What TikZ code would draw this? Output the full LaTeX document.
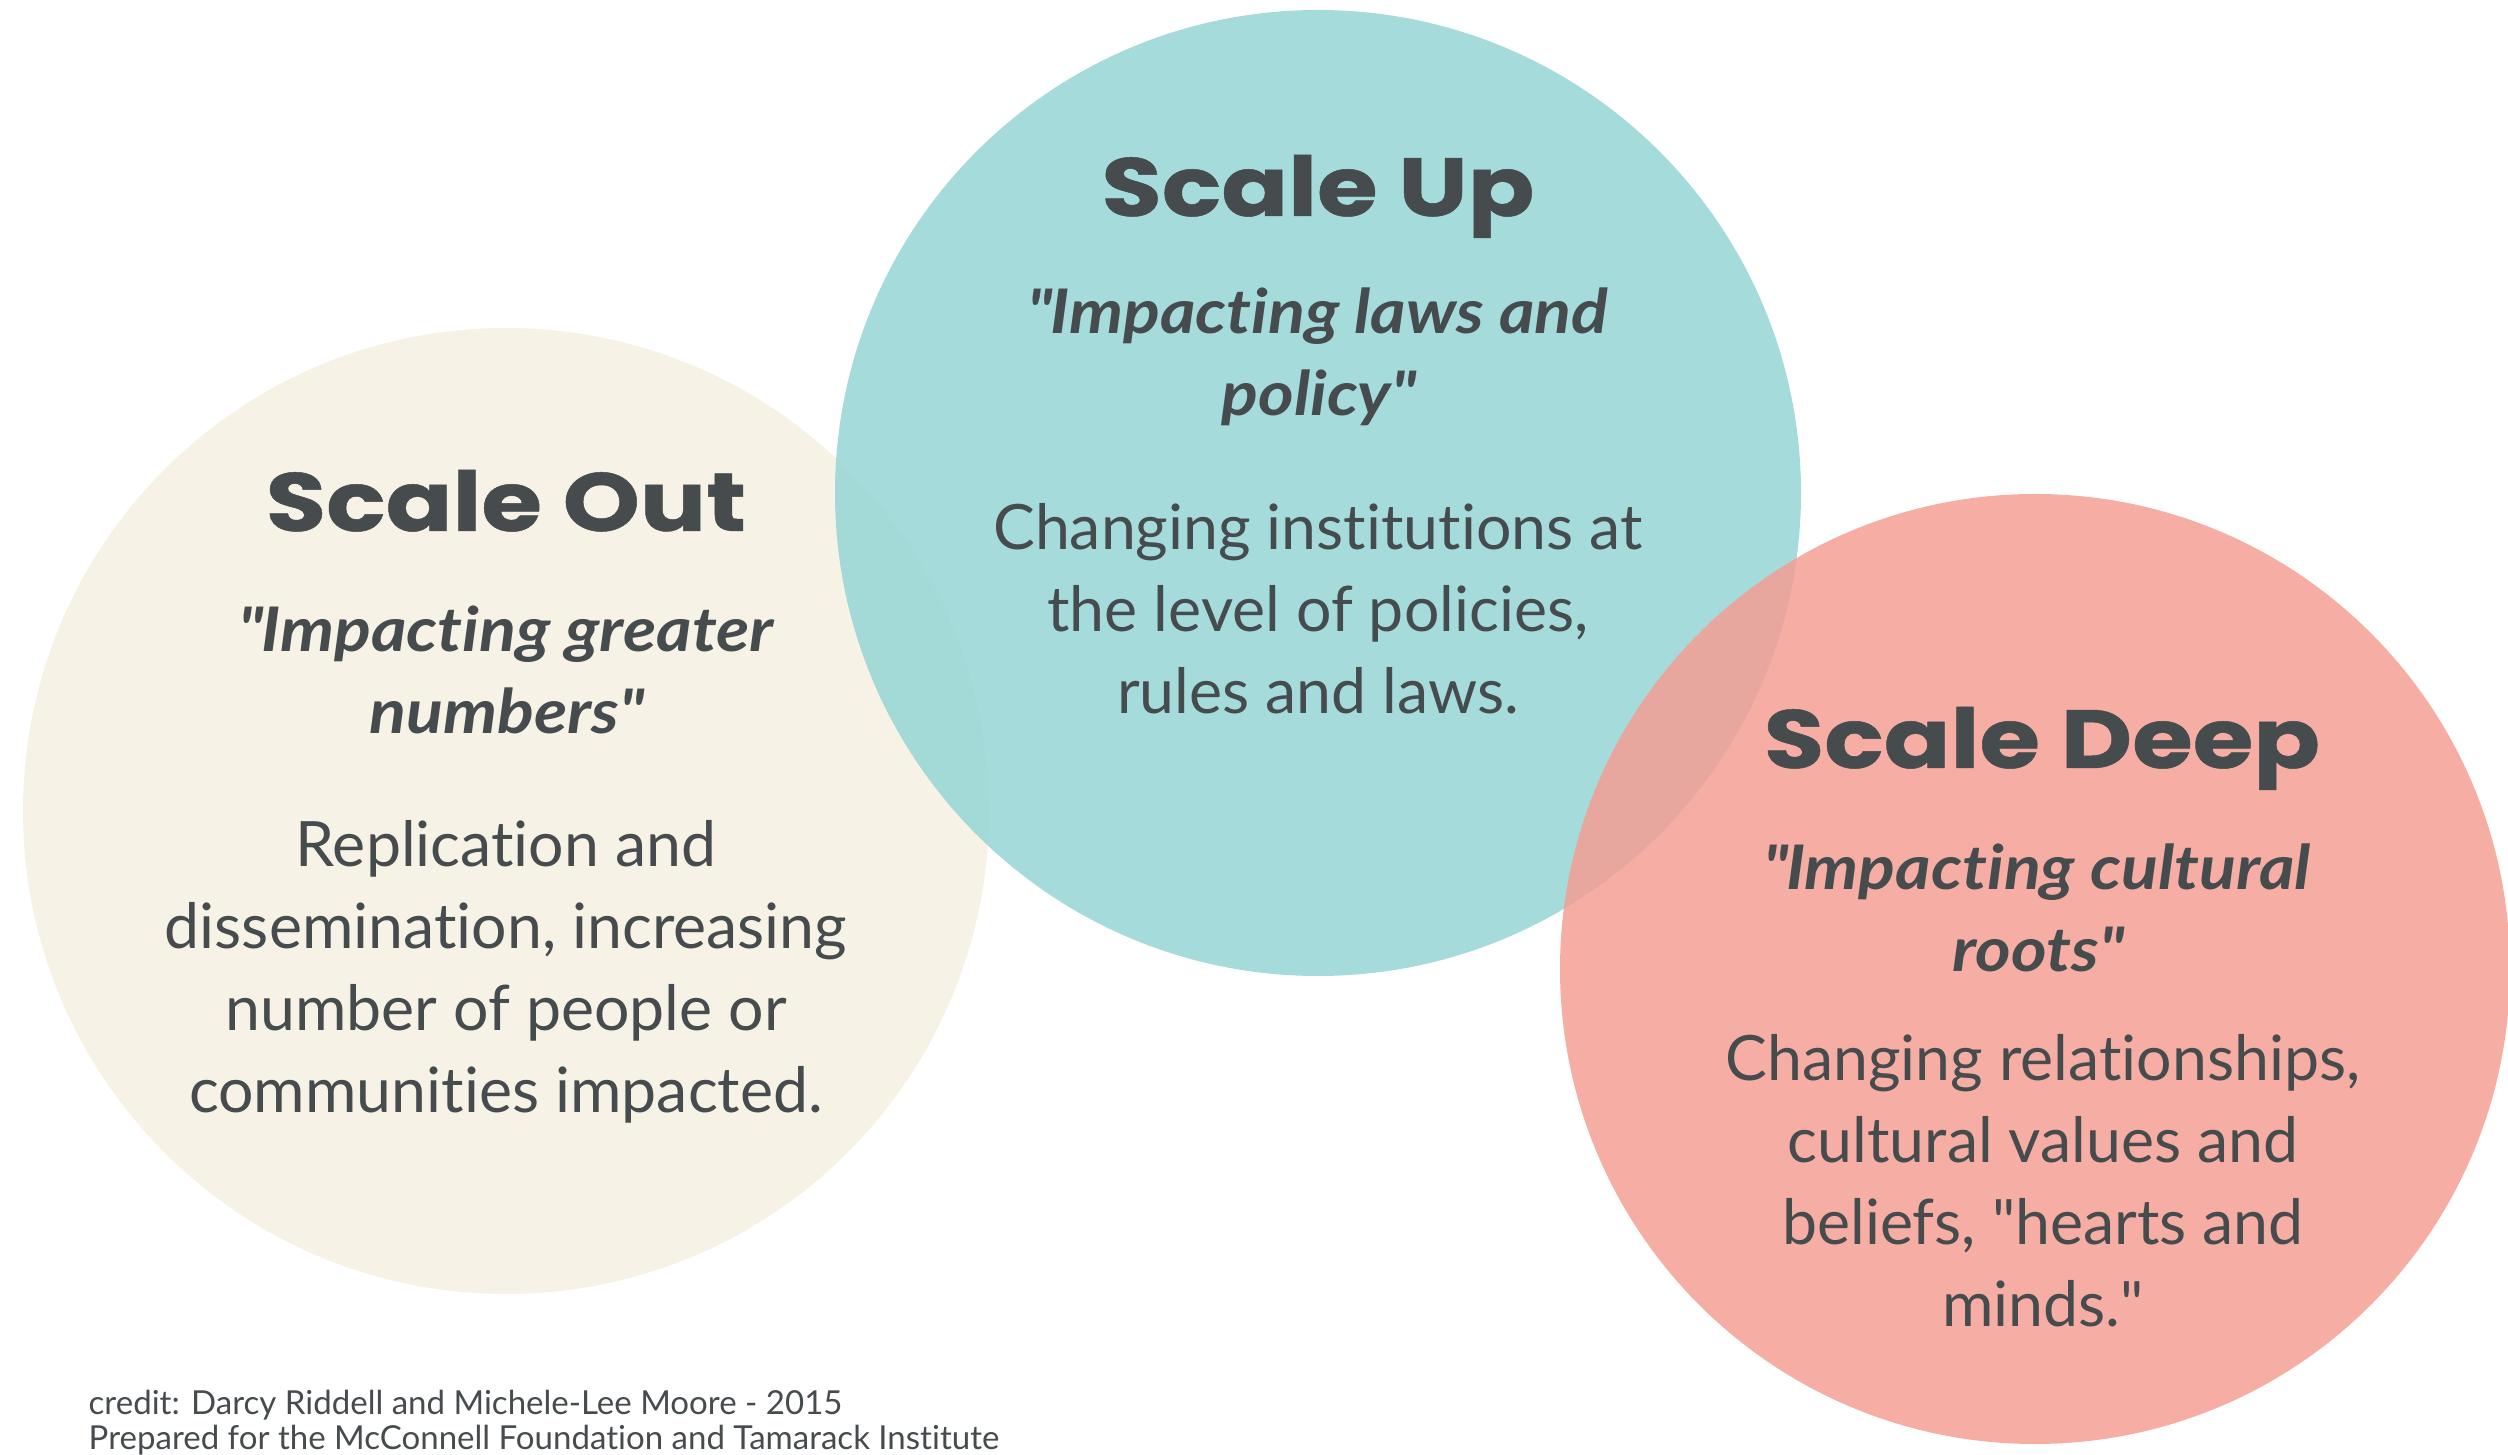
\documentclass[tikz,border=0pt]{standalone}
\usepackage{fontspec}
\setmainfont{Lato}[Ligatures={NoCommon}]
\newfontfamily\headfont{Poppins}[FakeStretch=1.19, FakeBold=0.6]
\newfontfamily\quotefont{Lato}[FakeStretch=1.11, Ligatures={NoCommon}]
\usepackage{xcolor}

\definecolor{outfill}{HTML}{F6F2E6}
\definecolor{upfill}{HTML}{9BD8D7}
\definecolor{deepfill}{HTML}{F39F94}
\definecolor{ink}{HTML}{464B4E}
\newcommand{\dq}{\textquotedbl}

\begin{document}
\begin{tikzpicture}[
	disc/.style={circle, inner sep=0pt, minimum size=#1},
	head/.style={anchor=base, text=ink, inner sep=0pt, font=\headfont\bfseries\fontsize{23.5}{28}\selectfont},
	quote/.style={anchor=north, align=center, text=ink, inner sep=0pt, font=\quotefont\bfseries\itshape\fontsize{17.5}{23.3}\selectfont},
	body/.style={anchor=north, align=center, text=ink, inner sep=0pt, font=\fontsize{17.8}{23.3}\selectfont}]
	\useasboundingbox (0,0) rectangle (25.08,14.55);
	\clip (0,0) rectangle (25.08,14.55);

	% the three circles
	\node[disc=9.66cm, fill=outfill] (out) at (5.06,6.44) {};
	\node[disc=9.66cm, fill=upfill, fill opacity=0.9] (up) at (13.18,9.62) {};
	\node[disc=9.5cm, fill=deepfill, fill opacity=0.85] (deep) at (20.35,4.86) {};

	% scale out
	\node[head] (outhead) at (5.06,9.24) {Scale Out};
	\node[quote] (outquote) at (5.06,8.50) {\dq Impacting greater\\numbers\dq};
	\node[body] (outbody) at (5.06,6.35) {Replication and\\dissemination, increasing\\number of people or\\communities impacted.};

	% scale up
	\node[head] (uphead) at (13.18,12.39) {Scale Up};
	\node[quote] (upquote) at (13.18,11.68) {\dq Impacting laws and\\policy\dq};
	\node[body] (upbody) at (13.18,9.52) {Changing institutions at\\the level of policies,\\rules and laws.};

	% scale deep
	\node[head] (deephead) at (20.42,6.87) {Scale Deep};
	\node[quote] (deepquote) at (20.37,6.12) {\dq Impacting cultural\\roots\dq};
	\node[body] (deepbody) at (20.43,4.21) {Changing relationships,\\cultural values and\\beliefs, \dq hearts and\\minds.\dq};

	\node[anchor=north west, align=left, text=ink, inner sep=0pt, font=\fontsize{9.4}{10.2}\selectfont] (credit) at (0.88,0.66)
		{credit: Darcy Riddell and Michele-Lee Moore - 2015\\Prepared for the McConnell Foundation and Tamarack Institute};
\end{tikzpicture}
\end{document}
